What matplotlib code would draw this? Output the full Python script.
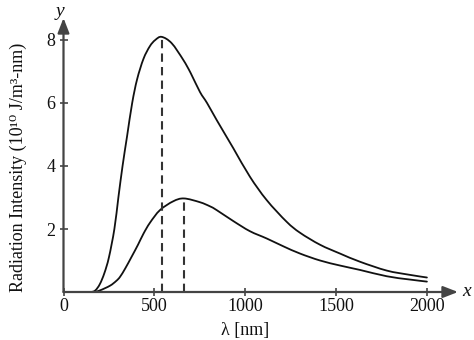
import matplotlib
matplotlib.use("Agg")
import matplotlib.pyplot as plt
from matplotlib.path import Path
from matplotlib.patches import PathPatch

# Spectral radiation intensity curves (wavelength in nm, intensity in 1e10 J/m^3-nm)
wl_hot = [100, 150, 175, 200, 225, 250, 280, 302, 325, 350, 378, 405, 440, 475,
          505, 540, 595, 659, 700, 751, 790, 843, 935, 1026, 1118, 1228, 1302,
          1412, 1522, 1632, 1779, 1900, 2000]
int_hot = [0, 0, 0.05, 0.25, 0.6, 1.1, 2.0, 3.0, 4.0, 4.95, 6.0, 6.75, 7.4, 7.8,
           8.0, 8.1, 7.9, 7.37, 6.95, 6.35, 6.0, 5.46, 4.56, 3.66, 2.92, 2.23, 1.88,
           1.5, 1.22, 0.96, 0.68, 0.55, 0.46]

wl_cool = [100, 164, 200, 256, 290, 311, 340, 375, 410, 440, 476, 531, 604, 663,
           751, 806, 843, 935, 1026, 1118, 1210, 1302, 1412, 1522, 1632, 1779,
           1900, 2000]
int_cool = [0, 0, 0.05, 0.2, 0.35, 0.48, 0.75, 1.12, 1.5, 1.85, 2.2, 2.6, 2.88,
            2.97, 2.85, 2.72, 2.6, 2.25, 1.93, 1.70, 1.45, 1.22, 1.0, 0.84, 0.7,
            0.5, 0.4, 0.33]

# Peak wavelengths and peak intensities
peak_wl = [540, 663]
peak_int = [8.1, 2.97]

x_ticks = [0, 500, 1000, 1500, 2000]
x_tick_labels = ["0", "500", "1000", "1500", "2000"]
y_ticks = [2, 4, 6, 8]
y_tick_labels = ["2", "4", "6", "8"]


def smooth_path(xs, ys):
    """Cubic Bezier path through every data point (Catmull-Rom tangents)."""
    pts = list(zip(xs, ys))
    verts = [pts[0]]
    codes = [Path.MOVETO]
    n = len(pts)
    for i in range(n - 1):
        p0 = pts[i - 1] if i > 0 else pts[i]
        p1 = pts[i]
        p2 = pts[i + 1]
        p3 = pts[i + 2] if i + 2 < n else pts[i + 1]
        c1 = (p1[0] + (p2[0] - p0[0]) / 6, p1[1] + (p2[1] - p0[1]) / 6)
        c2 = (p2[0] - (p3[0] - p1[0]) / 6, p2[1] - (p3[1] - p1[1]) / 6)
        verts += [c1, c2, p2]
        codes += [Path.CURVE4] * 3
    return Path(verts, codes)


W, H = 474, 340
fig = plt.figure(figsize=(W / 100, H / 100), dpi=100)
plt.rcParams["font.family"] = ["Liberation Serif", "DejaVu Serif"]

x0, x1 = 63.5, 458.0
y0, y1 = 292.0, 18.0
ax = fig.add_axes([x0 / W, (H - y0) / H, (x1 - x0) / W, (y0 - y1) / H])
ax.set_xlim(0, (x1 - x0) / 0.1817)
ax.set_ylim(0, (y0 - y1) / 31.5)
ax.patch.set_alpha(0)

axis_col = "#444444"
ink = "#111111"
for s in ax.spines.values():
    s.set_visible(False)

# Axes with arrowheads
for tip in [(1, 0), (0, 1)]:
    ax.annotate("", xy=tip, xycoords="axes fraction", xytext=(0, 0),
                arrowprops=dict(arrowstyle="-|>,head_length=0.9,head_width=0.35",
                                color=axis_col, lw=1.6, shrinkA=0, shrinkB=0),
                annotation_clip=False)

for xs, ys in [(wl_hot, int_hot), (wl_cool, int_cool)]:
    ax.add_patch(PathPatch(smooth_path(xs, ys), fill=False, edgecolor=ink,
                           lw=1.3, capstyle="round", joinstyle="round"))
for w, v in zip(peak_wl, peak_int):
    ax.plot([w, w], [0, v], color="#333333", lw=1.5, dashes=(4, 2.5))

ax.set_xticks(x_ticks)
ax.set_xticklabels(x_tick_labels)
ax.set_yticks(y_ticks)
ax.set_yticklabels(y_tick_labels)
ax.tick_params(direction="inout", length=6, width=1.2, color=axis_col,
               labelsize=13, labelcolor=ink)
ax.tick_params(axis="x", pad=1)
ax.tick_params(axis="y", pad=3)

ax.set_xlabel("λ [nm]", fontsize=13, color=ink)
ax.xaxis.set_label_coords((245 - x0) / (x1 - x0), -(330 - y0) / (y0 - y1))
ax.set_ylabel("Radiation Intensity (10¹⁰ J/m³-nm)", fontsize=13, color=ink)
ax.yaxis.set_label_coords(-(x0 - 18) / (x1 - x0), (y0 - 167) / (y0 - y1))
ax.xaxis.label.set_va("center")
ax.yaxis.label.set_va("center")

fig.text(60 / W, 1 - 11 / H, "y", fontsize=14, style="italic", ha="center",
         va="center", color=ink)
fig.text(467 / W, 1 - 291 / H, "x", fontsize=14, style="italic", ha="center",
         va="center", color=ink)

fig.savefig("out.png", dpi=100)
